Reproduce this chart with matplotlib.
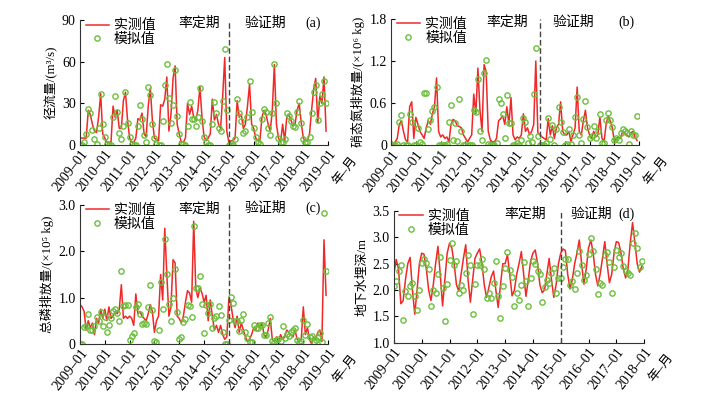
import matplotlib
matplotlib.use('Agg')
import matplotlib.pyplot as plt
import numpy as np

plt.rcParams['font.family'] = ['Liberation Serif', 'Noto Sans CJK SC', 'DejaVu Serif']
plt.rcParams['font.size'] = 10

# monthly data, 2009-01 .. 2018-12 (a, b, c) and 2009-01 .. 2017-12 (d)
flow_obs = [5, 5, 5, 5, 25, 22, 15, 10, 9, 20, 37, 8,
            5, 2, 2, 2, 28, 20, 25, 12, 12, 32, 38, 18,
            5, 2, 2, 5, 19, 18, 23, 8, 6, 28, 41, 18,
            5, 4, 3, 29, 28, 33, 49, 10, 22, 48, 57, 15,
            8, 2, 2, 5, 30, 22, 28, 20, 18, 25, 42, 20,
            6, 3, 5, 8, 33, 18, 22, 15, 12, 35, 63, 10,
            2, 3, 3, 5, 32, 20, 22, 12, 15, 28, 44, 15,
            12, 5, 3, 3, 20, 25, 22, 15, 10, 25, 58, 15,
            5, 2, 15, 3, 20, 22, 18, 14, 15, 25, 30, 16,
            5, 3, 3, 8, 25, 40, 48, 16, 35, 30, 49, 10]
flow_sim = [0, 0, 2, 8, 26, 23, 11, 4, 1, 12, 37, 15,
            6, 1, 0, 0, 20, 35, 24, 9, 4, 14, 38, 16,
            6, 1, 0, 0, 14, 29, 19, 7, 2, 42, 36, 15,
            5, 1, 0, 0, 17, 43, 58, 34, 16, 29, 54, 21,
            8, 1, 1, 0, 14, 31, 19, 19, 14, 20, 41, 17,
            6, 2, 0, 0, 15, 31, 23, 12, 10, 32, 69, 25,
            0, 0, 0, 4, 33, 23, 17, 9, 10, 20, 46, 24,
            12, 6, 2, 1, 19, 26, 24, 12, 7, 23, 58, 30,
            5, 2, 2, 4, 23, 21, 17, 14, 13, 24, 32, 16,
            4, 2, 2, 6, 23, 38, 43, 18, 30, 37, 46, 30]

no3_obs = [0.08, 0.0, 0.05, 0.1, 0.3, 0.35, 0.2, 0.08, 0.05, 0.55, 0.62, 0.1,
           0.4, 0.3, 0.2, 0.15, 0.1, 0.25, 0.35, 0.3, 0.45, 0.55, 0.96, 0.2,
           0.12, 0.15, 0.1, 0.12, 0.05, 0.3, 0.37, 0.35, 0.28, 0.27, 0.25, 0.15,
           0.1, 0.05, 0.1, 0.15, 0.73, 0.45, 1.1, 0.5, 0.2, 1.15, 1.05, 0.2,
           0.08, 0.05, 0.05, 0.1, 0.35, 0.38, 0.42, 0.3, 0.55, 0.3, 0.68, 0.15,
           0.08, 0.12, 0.1, 0.15, 0.45, 0.2, 0.25, 0.15, 0.2, 0.3, 1.2, 0.18,
           0.15, 0.12, 0.1, 0.08, 0.38, 0.15, 0.28, 0.1, 0.25, 0.3, 0.62, 0.2,
           0.15, 0.15, 0.2, 0.05, 0.15, 0.25, 0.83, 0.2, 0.15, 0.35, 0.5, 0.25,
           0.15, 0.1, 0.2, 0.12, 0.15, 0.4, 0.1, 0.05, 0.3, 0.42, 0.35, 0.25,
           0.05, 0.1, 0.12, 0.1, 0.2, 0.18, 0.15, 0.12, 0.18, 0.2, 0.12, 0.07]
no3_sim = [0, 0, 0.01, 0.02, 0.34, 0.43, 0.01, 0.01, 0, 0.44, 0.33, 0,
           0, 0.25, 0.05, 0.02, 0.75, 0.75, 0.23, 0.36, 0.49, 0.55, 0.83, 0,
           0, 0, 0, 0.02, 0.33, 0.57, 0.08, 0.32, 0.06, 0.66, 0.21, 0,
           0, 0, 0, 0, 0.51, 0.47, 0.95, 0.21, 0.07, 1.03, 1.22, 0.02,
           0, 0, 0, 0.03, 0.66, 0.60, 0.44, 0.10, 0.71, 0.32, 0.32, 0,
           0, 0.03, 0, 0.08, 0.39, 0.34, 0.04, 0.13, 0.05, 0.73, 1.39, 0.13,
           0, 0, 0, 0.04, 0.39, 0.09, 0.29, 0, 0.24, 0.54, 0.34, 0.19,
           0, 0.02, 0.24, 0.02, 0.15, 0.40, 0.69, 0.15, 0.03, 0.38, 0.63, 0.26,
           0.11, 0.14, 0.27, 0.10, 0.21, 0.45, 0.04, 0.03, 0.36, 0.46, 0.36, 0.26,
           0.08, 0.10, 0.07, 0.17, 0.23, 0.21, 0.18, 0.02, 0.21, 0.15, 0.15, 0.42]

tp_obs = [0.85, 0.8, 0.7, 0.3, 0.5, 0.35, 0.45, 0.2, 0.55, 0.45, 0.75, 0.55,
          0.75, 0.5, 0.8, 0.55, 0.6, 0.7, 0.65, 0.75, 1.28, 0.55, 0.6, 0.55,
          0.6, 0.55, 0.4, 1.08, 0.65, 0.7, 0.6, 0.55, 0.5, 0.65, 0.85, 0.7,
          0.25, 0.5, 0.6, 1.5, 0.95, 2.5, 1.5, 0.6, 0.8, 1.82, 1.75, 0.6,
          0.55, 0.45, 0.6, 0.9, 1.15, 1.1, 0.9, 2.65, 1.2, 1.0, 1.2, 1.1,
          0.9, 1.05, 0.5, 0.95, 0.6, 0.3, 0.4, 0.25, 0.4, 0.2, 0.1, 0.15,
          1.0, 0.85, 0.55, 0.35, 0.6, 0.25, 0.45, 0.3, 0.15, 0.05, 0.1, 0.2,
          0.35, 0.3, 0.45, 0.35, 0.45, 0.2, 0.15, 0.3, 0.55, 0.1, 0.05, 0.15,
          0.05, 0.2, 0.1, 0.15, 0.3, 0.25, 0.2, 0.15, 0.3, 0.1, 0.05, 0.1,
          0.8, 0.2, 0.35, 0.1, 0.0, 0.15, 0.1, 0.25, 0.3, 0.05, 2.25, 1.05]
tp_sim = [0, 0, 0.36, 0.39, 0.64, 0.29, 0.31, 0.39, 0.59, 0.5, 0.69, 0.39,
          0.59, 0.25, 0.41, 0.56, 0.71, 0.75, 0.66, 0.49, 1.58, 0.82, 0.84, 0.85,
          0.09, 0.18, 0.24, 0.79, 0.86, 0.64, 0.43, 0.45, 0.43, 0.79, 1.27, 0.74,
          0.06, 0.04, 0.29, 1.34, 0.76, 2.27, 1.51, 0.86, 0.49, 0.99, 1.62, 0.68,
          0.11, 0.14, 0.48, 0.54, 0.85, 0.82, 0.58, 2.55, 1.2, 1.21, 1.46, 0.87,
          0.23, 0.85, 0.66, 0.86, 0.34, 0.55, 0.61, 0.82, 0.63, 0.26, 0, 0,
          0.52, 1.02, 0.88, 0.49, 0.49, 0.27, 0.52, 0.64, 0.26, 0.12, 0.04, 0.04,
          0.41, 0.34, 0.35, 0.41, 0.41, 0.2, 0.2, 0.45, 0.59, 0.07, 0.05, 0.09,
          0.11, 0.07, 0.39, 0.12, 0.21, 0.18, 0.25, 0.29, 0.34, 0.09, 0.04, 0.07,
          0.51, 0.2, 0.42, 0.14, 0.18, 0.05, 0.09, 0.14, 0.24, 0.04, 2.84, 1.57]

gw_obs = [2.3, 2.58, 2.4, 1.74, 1.8, 2.2, 2.5, 2.62, 2.0, 1.54, 2.0, 2.5,
          2.7, 2.68, 2.4, 2.0, 1.8, 2.1, 2.5, 2.83, 2.3, 1.7, 2.2, 2.7,
          2.89, 2.8, 2.5, 2.1, 1.98, 2.3, 2.6, 2.86, 2.2, 1.77, 2.2, 2.6,
          2.7, 2.78, 2.5, 2.1, 1.86, 2.05, 2.25, 2.36, 2.0, 1.67, 2.1, 2.5,
          2.5, 2.67, 2.3, 1.89, 2.0, 2.3, 2.5, 2.73, 2.3, 1.88, 2.2, 2.55,
          2.7, 2.76, 2.5, 2.1, 1.95, 2.0, 2.3, 2.6, 2.2, 1.86, 2.1, 2.5,
          2.7, 2.78, 2.75, 2.3, 2.02, 2.2, 2.5, 2.7, 2.95, 2.5, 2.11, 2.4,
          2.8, 2.95, 2.7, 2.3, 2.08, 2.3, 2.6, 2.92, 2.5, 2.14, 2.3, 2.7,
          2.92, 2.9, 2.7, 2.4, 2.23, 2.4, 2.9, 3.28, 2.9, 2.5, 2.34, 2.45]
gw_sim = [2.08, 2.18, 2.37, 2.48, 1.44, 1.99, 1.89, 2.08, 2.13, 1.89, 1.63, 2.0,
          2.51, 2.58, 2.52, 2.40, 1.69, 2.0, 1.94, 2.3, 2.62, 2.03, 1.41, 2.12,
          2.57, 2.9, 2.48, 2.55, 1.94, 2.09, 2.0, 2.32, 2.66, 2.48, 1.55, 2.12,
          2.48, 2.48, 2.58, 2.39, 1.85, 1.95, 1.85, 2.13, 2.55, 1.89, 1.47, 2.08,
          2.41, 2.72, 2.38, 2.25, 1.69, 1.94, 1.82, 2.1, 2.53, 2.18, 1.69, 2.23,
          2.56, 2.5, 2.36, 2.31, 1.77, 2.05, 2.19, 2.13, 2.33, 2.42, 1.94, 2.22,
          2.22, 2.43, 2.58, 2.59, 2.1, 2.17, 2.02, 2.33, 2.75, 2.48, 2.19, 2.28,
          2.69, 2.99, 2.75, 2.4, 1.92, 2.14, 2.09, 2.67, 2.73, 2.53, 1.94, 2.43,
          2.76, 2.62, 2.7, 2.45, 2.37, 2.33, 2.28, 2.9, 3.09, 2.8, 2.44, 2.56]

years_10 = ['2009–01', '2010–01', '2011–01', '2012–01', '2013–01', '2014–01',
            '2015–01', '2016–01', '2017–01', '2018–01', '2019–01']
years_9 = years_10[:-1]

red = '#f02828'
green = '#6cbf3c'
rot = 52

fig = plt.figure(figsize=(7.11, 3.93), dpi=100)


def panel(rect, obs, sim, ylim, yticks, ylabels, ylabel, tag, xlabels, txt_x):
    ax = fig.add_axes(rect)
    x = np.arange(len(obs))
    ax.plot(x, obs, color=red, lw=1.1, label='实测值')
    ax.plot(x, sim, ls='', marker='o', ms=3.8, mfc='none', mec=green, mew=1.0,
            label='模拟值')
    nmon = 12 * (len(xlabels) - 1)
    ax.axvline(72, color='#444444', lw=1.0, ls=(0, (4, 2)))
    ax.set_xlim(0, nmon)
    ax.set_ylim(*ylim)
    ax.set_xticks(np.arange(0, nmon + 1, 12))
    ax.set_xticklabels(xlabels, rotation=rot, ha='right', rotation_mode='anchor',
                       fontsize=9.3)
    ax.set_yticks(yticks)
    ax.set_yticklabels(ylabels)
    ax.tick_params(direction='in', length=3, width=0.8, labelsize=10, pad=3)
    ax.tick_params(axis='x', pad=2)
    for s in ['top', 'right']:
        ax.spines[s].set_visible(False)
    for s in ['left', 'bottom']:
        ax.spines[s].set_color('#333333')
    ax.set_ylabel(ylabel, fontsize=9.3, labelpad=3)
    ax.legend(loc='upper left', bbox_to_anchor=(0.0, 1.05), frameon=False,
              handlelength=1.7, handletextpad=0.35, labelspacing=0.05,
              borderaxespad=0.0, fontsize=10)
    ax.text(txt_x[0], 0.975, '率定期', transform=ax.get_xaxis_transform(),
            ha='center', va='center', fontsize=10)
    ax.text(txt_x[1], 0.975, '验证期', transform=ax.get_xaxis_transform(),
            ha='center', va='center', fontsize=10)
    ax.text(txt_x[2], 0.975, tag, transform=ax.get_xaxis_transform(),
            ha='center', va='center', fontsize=10)
    ax.annotate('年–月', xy=(1.0, 0.0), xycoords='axes fraction',
                xytext=(22, -9), textcoords='offset pixels', rotation=rot,
                ha='right', va='top', rotation_mode='anchor', fontsize=9.3)
    return ax


panel([0.1125, 0.631, 0.349, 0.318], flow_obs, flow_sim, (0, 90), [0, 30, 60, 90],
      ['0', '30', '60', '90'], '径流量/(m³/s)', '(a)', years_10, (57.6, 89.5, 112.7))
panel([0.550, 0.630, 0.349, 0.322], no3_obs, no3_sim, (0, 1.8), [0, 0.6, 1.2, 1.8],
      ['0', '0.6', '1.2', '1.8'], '硝态氮排放量/(×10⁶ kg)', '(b)', years_10, (56, 88, 114))
panel([0.1125, 0.125, 0.349, 0.353], tp_obs, tp_sim, (0, 3.0), [0, 1.0, 2.0, 3.0],
      ['0', '1.0', '2.0', '3.0'], '总磷排放量/(×10⁵ kg)', '(c)', years_10, (57.6, 89.5, 112.7))
panel([0.554, 0.128, 0.352, 0.335], gw_obs, gw_sim, (1.0, 3.5),
      [1.0, 1.5, 2.0, 2.5, 3.0, 3.5], ['1.0', '1.5', '2.0', '2.5', '3.0', '3.5'],
      '地下水埋深/m', '(d)', years_9, (56.6, 85.4, 100.5))

fig.savefig('out.png', dpi=100)
